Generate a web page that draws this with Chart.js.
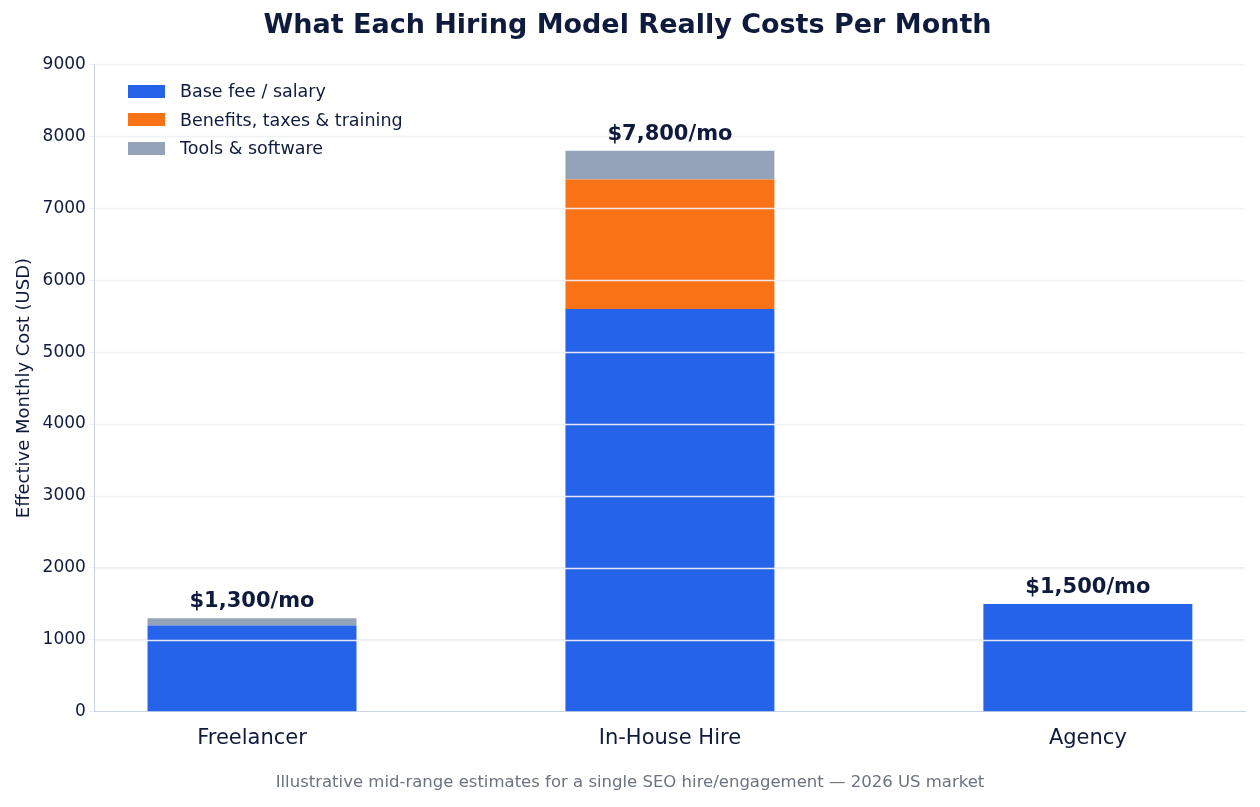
<!DOCTYPE html>
<html lang="en">
<head>
<meta charset="UTF-8" />
<title>Hiring Model Costs</title>
<script src="https://cdn.jsdelivr.net/npm/chart.js"></script>
<style>
  body { margin: 0; background: #fff; font-family: "DejaVu Sans", sans-serif; }
  .wrap { position: relative; width: 1260px; height: 807px; }
  #legend { position: absolute; left: 128px; top: 77px; font-size: 17.5px; color: #0f1b3d; }
  #legend div { display: flex; align-items: center; height: 28.5px; }
  #legend span { display: inline-block; width: 37px; height: 13px; margin-right: 15px; }
  #foot { position: absolute; left: 0; width: 1260px; top: 772px; text-align: center; font-size: 16.5px; color: #6b7280; }
</style>
</head>
<body>
<div class="wrap">
  <canvas id="c" width="1260" height="807"></canvas>
  <div id="legend"></div>
  <div id="foot">Illustrative mid-range estimates for a single SEO hire/engagement — 2026 US market</div>
</div>
<script>
  const categories = ['Freelancer', 'In-House Hire', 'Agency'];
  const baseFee = [1200, 5600, 1500];
  const benefits = [0, 1800, 0];
  const tools = [100, 400, 0];
  const totalLabels = ['$1,300/mo', '$7,800/mo', '$1,500/mo'];
  const seriesNames = ['Base fee / salary', 'Benefits, taxes & training', 'Tools & software'];
  const colors = ['#2563eb', '#f97316', '#94a3b8'];

  document.getElementById('legend').innerHTML = seriesNames.map((n, i) =>
    `<div><span style="background:${colors[i]}"></span>${n}</div>`).join('');

  const topGrid = {
    id: 'topGrid',
    afterDatasetsDraw(chart) {
      const { ctx, chartArea, scales: { y } } = chart;
      ctx.save();
      ctx.strokeStyle = 'rgba(238,240,244,0.95)';
      ctx.lineWidth = 1.5;
      y.ticks.forEach(t => {
        if (t.value === 0) return;
        const py = Math.round(y.getPixelForValue(t.value)) + 0.5;
        ctx.beginPath(); ctx.moveTo(chartArea.left, py); ctx.lineTo(chartArea.right, py); ctx.stroke();
      });
      ctx.fillStyle = '#0f1b3d';
      ctx.font = 'bold 21px "DejaVu Sans"';
      ctx.textAlign = 'center';
      ctx.textBaseline = 'bottom';
      const meta = chart.getDatasetMeta(0);
      categories.forEach((c, i) => {
        const tot = baseFee[i] + benefits[i] + tools[i];
        ctx.fillText(totalLabels[i], meta.data[i].x, y.getPixelForValue(tot) - 6);
      });
      ctx.restore();
    }
  };

  new Chart(document.getElementById('c'), {
    type: 'bar',
    data: {
      datasets: [baseFee, benefits, tools].map((d, i) => ({
        label: seriesNames[i], data: d.map((v, k) => ({ x: k, y: v })), backgroundColor: colors[i],
        barPercentage: 0.5, categoryPercentage: 1
      }))
    },
    options: {
      responsive: false, animation: false,
      layout: { padding: { left: 10, right: 15, top: 0, bottom: 50 } },
      plugins: {
        legend: { display: false },
        tooltip: { enabled: false },
        title: {
          display: true, text: 'What Each Hiring Model Really Costs Per Month',
          color: '#0f1b3d', font: { family: 'DejaVu Sans', size: 27, weight: 'bold' },
          padding: { top: 10, bottom: 22 }
        }
      },
      scales: {
        x: {
          type: 'linear', stacked: true, min: -0.376, max: 2.376, offset: false,
          afterBuildTicks: s => { s.ticks = [0, 1, 2].map(v => ({ value: v })); },
          grid: { display: false, drawTicks: true },
          border: { color: '#cbd5e1' },
          ticks: { color: '#0f1b3d', font: { family: 'DejaVu Sans', size: 21 }, padding: 6,
                   callback: v => categories[v] }
        },
        y: {
          stacked: true, min: 0, max: 9000,
          ticks: { stepSize: 1000, color: '#0f1b3d', font: { family: 'DejaVu Sans', size: 17 },
                   callback: v => String(v) },
          grid: { color: '#eef0f4', tickLength: 6 },
          border: { color: '#cbd5e1' },
          title: { display: true, text: 'Effective Monthly Cost (USD)', color: '#0f1b3d', font: { family: 'DejaVu Sans', size: 18 } }
        }
      }
    },
    plugins: [topGrid]
  });
</script>
</body>
</html>
